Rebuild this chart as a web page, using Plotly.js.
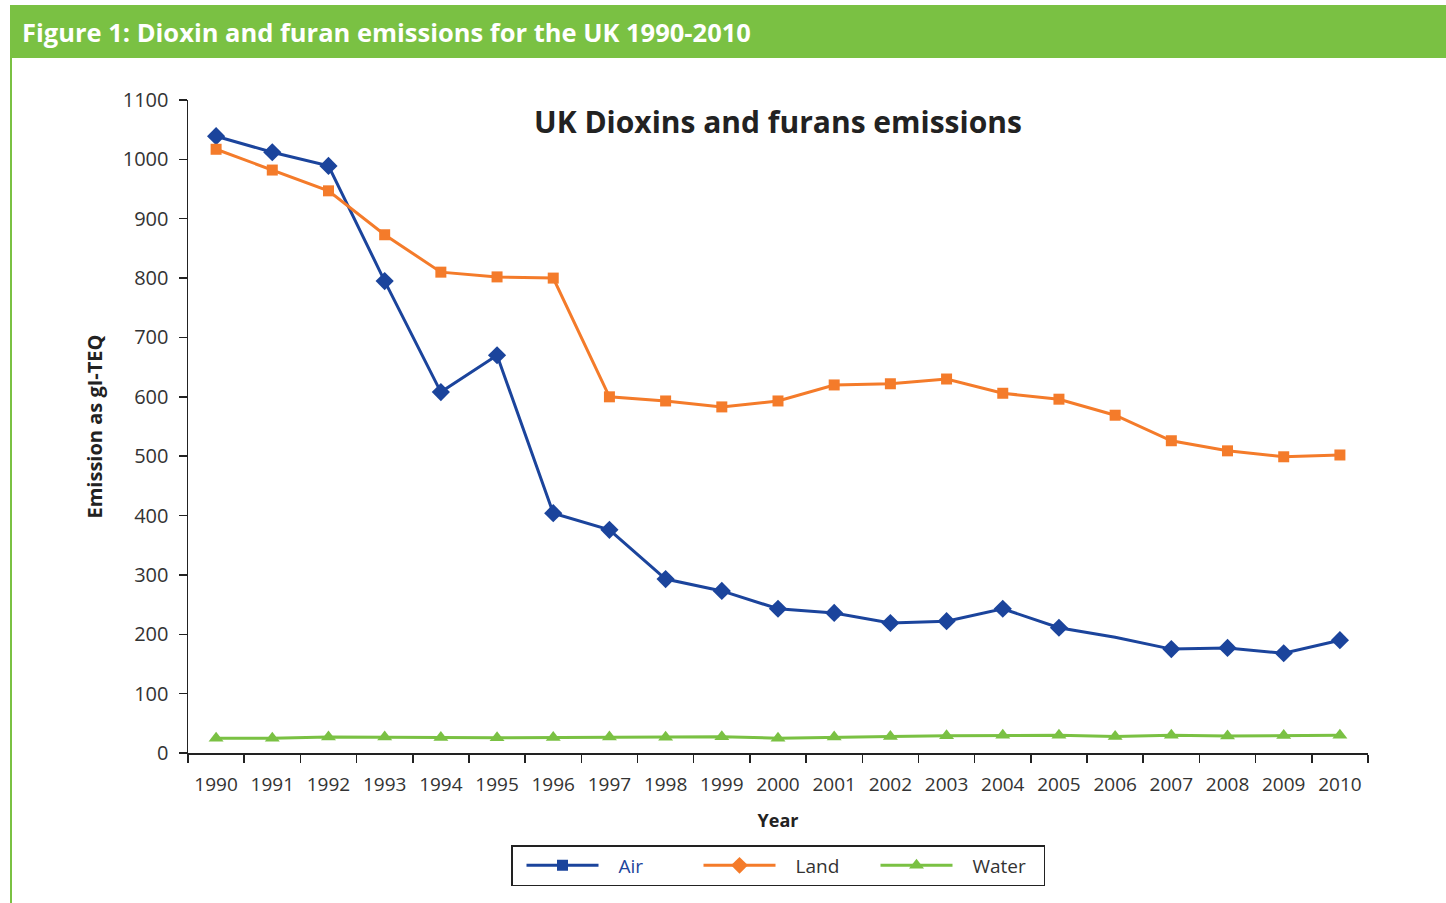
<!DOCTYPE html>
<html>
<head>
<meta charset="utf-8">
<script src="https://cdn.plot.ly/plotly-3.0.1.min.js"></script>
<style>html,body{margin:0;padding:0;background:#fff;}#chart{width:1446px;height:903px;}</style>
</head>
<body>
<div id="chart"></div>
<script>
var years = ["1990","1991","1992","1993","1994","1995","1996","1997","1998","1999","2000","2001","2002","2003","2004","2005","2006","2007","2008","2009","2010"];
var air = [1039,1012,989,795,608,670,404,376,293,273,243,236,219,222,243,211,195,175,177,168,190];
var land = [1017,982,947,873,810,802,800,600,593,583,593,620,622,630,606,596,569,526,509,499,502];
var water = [25,25,27,27,26,25.5,26,27,26.5,27.5,25,27,28,29,30,30,28,30,28.5,29.5,30];
var seriesNames = ["Air","Land","Water"];

var blue = "#1b449c", orange = "#f47b2a", green = "#7ac143";
var airSizes = years.map(function(y){ return y === "2006" ? 0 : 14; });
var F = "Open Sans, sans-serif";

var traces = [
  {x: years, y: air, type: "scatter", mode: "lines+markers", name: seriesNames[0], showlegend: false,
   line: {color: blue, width: 3}, marker: {symbol: "diamond", size: airSizes, color: blue, opacity: 1, line: {width: 0}}},
  {x: years, y: land, type: "scatter", mode: "lines+markers", name: seriesNames[1], showlegend: false,
   line: {color: orange, width: 3}, marker: {symbol: "square", size: 11, color: orange, opacity: 1, line: {width: 0}}},
  {x: years, y: water, type: "scatter", mode: "lines+markers", name: seriesNames[2], showlegend: false,
   line: {color: green, width: 3}, marker: {symbol: "triangle-up", size: 13, color: green, opacity: 1, line: {width: 0}}},
  // legend entries (the source legend shows swapped marker symbols)
  {x: [null], y: [null], type: "scatter", mode: "lines+markers", name: '<span style="color:' + blue + '">' + seriesNames[0] + '</span>',
   line: {color: blue, width: 3}, marker: {symbol: "square", size: 11, color: blue}},
  {x: [null], y: [null], type: "scatter", mode: "lines+markers", name: seriesNames[1],
   line: {color: orange, width: 3}, marker: {symbol: "diamond", size: 13, color: orange}},
  {x: [null], y: [null], type: "scatter", mode: "lines+markers", name: seriesNames[2],
   line: {color: green, width: 3}, marker: {symbol: "triangle-up", size: 13, color: green}}
];

var L = 188, R = 1368, T = 100, B = 753, W = 1446, H = 903;
function px(x){ return (x - L) / (R - L); }
function py(y){ return (B - y) / (B - T); }

var LEG_ITEM_W = 96, LEG_LINE_X0 = 14, LEG_LINE_LEN = 72;

var layout = {
  width: W, height: H,
  margin: {l: L, r: W - R, t: T, b: H - B, pad: 0},
  paper_bgcolor: "#fff", plot_bgcolor: "#fff",
  font: {family: F, color: "#333"},
  title: {text: "<b>Figure 1: Dioxin and furan emissions for the UK 1990-2010</b>",
          font: {family: F, size: 25.5, color: "#fff"},
          xref: "container", yref: "container", x: 22 / W, xanchor: "left",
          y: 1 - 33 / H, yanchor: "middle"},
  xaxis: {type: "category", categoryorder: "array", categoryarray: years, range: [-0.5, years.length - 0.5],
          tickson: "boundaries", ticks: "outside", ticklen: 8, tickwidth: 1.5, tickcolor: "#222", tickangle: 0,
          showline: true, linecolor: "#222", linewidth: 1.5, showgrid: false, zeroline: false,
          tickfont: {family: F, size: 19, color: "#333"}, ticklabelstandoff: 14,
          title: {text: "<b>Year</b>", font: {family: F, size: 18, color: "#222"}, standoff: 18}},
  yaxis: {range: [0, 1100], dtick: 100, ticks: "outside", ticklen: 8, tickwidth: 1.5, tickcolor: "#222",
          showline: true, linecolor: "#222", linewidth: 1.5, showgrid: false, zeroline: false,
          tickfont: {family: F, size: 20, color: "#333"}, ticklabelstandoff: 6,
          title: {text: "<b>Emission as gI-TEQ</b>", font: {family: F, size: 20, color: "#222"}, standoff: 15}},
  legend: {orientation: "h", x: 0.5, xanchor: "center", y: py(845), yanchor: "top",
           bordercolor: "#222", borderwidth: 1.5, bgcolor: "#fff", itemwidth: LEG_ITEM_W,
           font: {family: F, size: 19, color: "#333"}, entrywidth: 66, entrywidthmode: "pixels"},
  shapes: [
    {type: "rect", xref: "paper", yref: "paper", x0: px(10), x1: px(1446), y0: py(58), y1: py(5),
     fillcolor: green, line: {width: 0}, layer: "below"},
    {type: "line", xref: "paper", yref: "paper", x0: px(11), x1: px(11), y0: py(903), y1: py(58),
     line: {color: green, width: 2}}
  ],
  annotations: [
    {text: "<b>UK Dioxins and furans emissions</b>", xref: "paper", yref: "paper",
     x: px(778), y: py(122), xanchor: "center", yanchor: "middle", showarrow: false,
     font: {family: F, size: 30, color: "#222"}}
  ]
};

Plotly.newPlot("chart", traces, layout, {displayModeBar: false, staticPlot: true}).then(function(gd){
  // stretch legend line samples, markers centred on them
  gd.querySelectorAll(".legend .legendlines path").forEach(function(p){
    p.setAttribute("d", "M" + LEG_LINE_X0 + ",0h" + LEG_LINE_LEN);
  });
  gd.querySelectorAll(".legend .legendsymbols path").forEach(function(p){
    var t = p.getAttribute("transform") || "";
    p.setAttribute("transform", t.replace(/translate\([^)]*\)/, "translate(" + (LEG_LINE_X0 + LEG_LINE_LEN / 2) + ",0)"));
  });
});
</script>
</body>
</html>
